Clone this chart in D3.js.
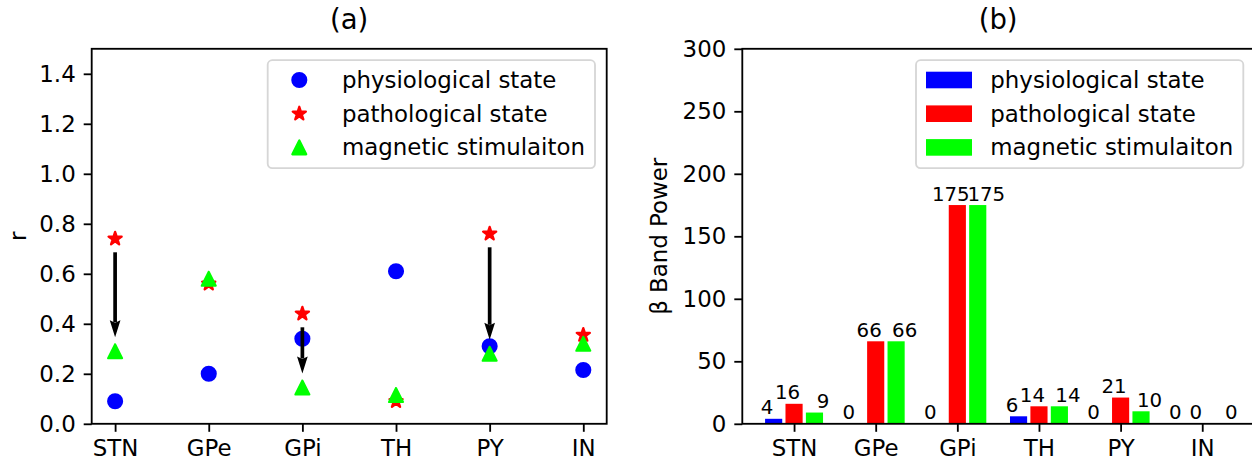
<!DOCTYPE html>
<html>
<head>
<meta charset="utf-8">
<script src="https://cdn.jsdelivr.net/npm/d3@7"></script>
<style>
  html, body { margin: 0; padding: 0; background: #fff; }
  svg { display: block; font-family: "DejaVu Sans", sans-serif; }
</style>
</head>
<body>
<svg id="fig" width="1252" height="461"></svg>
<script>
// ---- data ----
const categories = ["STN", "GPe", "GPi", "TH", "PY", "IN"];
const seriesNames = ["physiological state", "pathological state", "magnetic stimulaiton"];
const seriesColors = ["#0000ff", "#ff0000", "#00ff00"];

// (a) synchronization index r per nucleus
const physiologicalR = [0.09, 0.20, 0.34, 0.61, 0.31, 0.215];
const pathologicalR  = [0.74, 0.56, 0.44, 0.09, 0.76, 0.355];
const magneticR      = [0.29, 0.58, 0.145, 0.115, 0.28, 0.32];
// arrows from pathological to stimulated state
const arrowCategories = ["STN", "GPi", "PY"];
const rTicks = [0.0, 0.2, 0.4, 0.6, 0.8, 1.0, 1.2, 1.4];

// (b) beta band power per nucleus
const physiologicalPower = [4, 0, 0, 6, 0, 0];
const pathologicalPower  = [16, 66, 175, 14, 21, 0];
const magneticPower      = [9, 66, 175, 14, 10, 0];
const powerTicks = [0, 50, 100, 150, 200, 250, 300];

// ---- layout ----
const FS = 22.9;          // base font size
const SPINE = 1.83;
const TICK = 8;
const plotTop = 48.8, plotBottom = 423.8;
const A = { x0: 91.7, x1: 606.7 };
const B = { x0: 742.3, x1: 1254 };

const svg = d3.select("#fig");

function spines(g, x0, x1) {
  g.append("rect")
    .attr("x", x0).attr("y", plotTop)
    .attr("width", x1 - x0).attr("height", plotBottom - plotTop)
    .attr("fill", "none").attr("stroke", "#000").attr("stroke-width", SPINE);
}

function styleAxis(sel) {
  sel.select(".domain").remove();
  sel.selectAll(".tick line").attr("stroke", "#000").attr("stroke-width", SPINE);
  sel.selectAll(".tick text")
    .attr("fill", "#000")
    .attr("font-size", FS)
    .attr("font-family", "DejaVu Sans");
}

function title(text, x0, x1) {
  svg.append("text")
    .attr("x", (x0 + x1) / 2).attr("y", 29)
    .attr("text-anchor", "middle")
    .attr("font-size", 27.5)
    .text(text);
}

function yLabel(text, x) {
  svg.append("text")
    .attr("transform", `translate(${x},${(plotTop + plotBottom) / 2}) rotate(-90)`)
    .attr("text-anchor", "middle")
    .attr("font-size", FS)
    .text(text);
}

function legendFrame(x0) {
  const g = svg.append("g");
  g.append("rect")
    .attr("x", x0).attr("y", 60.2)
    .attr("width", 327.3).attr("height", 108)
    .attr("rx", 4.6).attr("ry", 4.6)
    .attr("fill", "#fff").attr("fill-opacity", 0.8)
    .attr("stroke", "#cccccc").attr("stroke-opacity", 0.8)
    .attr("stroke-width", SPINE);
  return g;
}
const legendRows = [80, 113.7, 147.4];

// ---- marker shapes ----
const MR = 6.9;     // marker half size
const MEW = 2.3;    // marker edge width
function starPath(r) {
  const pts = [];
  const inner = r * 0.381966;
  for (let k = 0; k < 10; k++) {
    const rad = k % 2 === 0 ? r : inner;
    const ang = -Math.PI / 2 + k * Math.PI / 5;
    pts.push([rad * Math.cos(ang), rad * Math.sin(ang)]);
  }
  return d3.line()(pts) + "Z";
}
function trianglePath(r) {
  return d3.line()([[0, -r], [-r, r], [r, r]]) + "Z";
}
function drawMarker(g, kind, cx, cy, color) {
  if (kind === 0) {
    g.append("circle").attr("cx", cx).attr("cy", cy).attr("r", MR)
      .attr("fill", color).attr("stroke", color).attr("stroke-width", MEW);
  } else {
    g.append("path")
      .attr("d", kind === 1 ? starPath(MR) : trianglePath(MR))
      .attr("transform", `translate(${cx},${cy})`)
      .attr("fill", color).attr("stroke", color)
      .attr("stroke-width", MEW).attr("stroke-linejoin", "round");
  }
}

// ================= panel (a) =================
const xA = d3.scaleLinear().domain([-0.25, 5.25]).range([A.x0, A.x1]);
const yA = d3.scaleLinear().domain([0, 1.5]).range([plotBottom, plotTop]);

const gA = svg.append("g");
const gAy = gA.append("g").attr("transform", `translate(${A.x0},0)`)
  .call(d3.axisLeft(yA).tickValues(rTicks).tickFormat(d3.format(".1f"))
    .tickSize(TICK).tickPadding(8));
styleAxis(gAy);
const gAx = gA.append("g").attr("transform", `translate(0,${plotBottom})`)
  .call(d3.axisBottom(xA).tickValues(d3.range(categories.length))
    .tickFormat(i => categories[i]).tickSize(TICK).tickPadding(8));
styleAxis(gAx);

const rSeries = [physiologicalR, pathologicalR, magneticR];
const gMarks = gA.append("g");
rSeries.forEach((vals, s) => {
  vals.forEach((v, i) => drawMarker(gMarks, s, xA(i), yA(v), seriesColors[s]));
});

// arrows: pathological -> magnetic stimulation
const gArrows = gA.append("g");
const shrinkStart = 13.5, shrinkEnd = 14, headLen = 17, headW = 10.7, shaftW = 3.7;
arrowCategories.forEach(c => {
  const i = categories.indexOf(c);
  const x = xA(i);
  const yStart = yA(pathologicalR[i]) + shrinkStart;
  const yTip = yA(magneticR[i]) - shrinkEnd;
  gArrows.append("line")
    .attr("x1", x).attr("x2", x)
    .attr("y1", yStart).attr("y2", yTip - headLen + 2)
    .attr("stroke", "#000").attr("stroke-width", shaftW);
  gArrows.append("path")
    .attr("d", d3.line()([[x, yTip], [x - headW / 2, yTip - headLen], [x, yTip - headLen + 2.5], [x + headW / 2, yTip - headLen]]) + "Z")
    .attr("fill", "#000");
});

spines(gA, A.x0, A.x1);
title("(a)", A.x0, A.x1);
yLabel("r", 25.5);

// legend (a)
const legA = legendFrame(267.7);
seriesNames.forEach((name, s) => {
  drawMarker(legA, s, 267.7 + 31.6, legendRows[s], seriesColors[s]);
  legA.append("text")
    .attr("x", 267.7 + 74.3).attr("y", legendRows[s] + 8)
    .attr("font-size", FS).text(name);
});

// ================= panel (b) =================
const xB = d3.scaleLinear().domain([-0.634, 5.634]).range([B.x0, B.x1]);
const yB = d3.scaleLinear().domain([0, 300]).range([plotBottom, plotTop]);
const barW = 0.21;
const barOffsets = [-0.25, 0, 0.25];
const labelShift = [-0.08, -0.08, 0.105];

const gB = svg.append("g");
const gBy = gB.append("g").attr("transform", `translate(${B.x0},0)`)
  .call(d3.axisLeft(yB).tickValues(powerTicks).tickSize(TICK).tickPadding(8));
styleAxis(gBy);
const gBx = gB.append("g").attr("transform", `translate(0,${plotBottom})`)
  .call(d3.axisBottom(xB).tickValues(d3.range(categories.length))
    .tickFormat(i => categories[i]).tickSize(TICK).tickPadding(8));
styleAxis(gBx);

const powerSeries = [physiologicalPower, pathologicalPower, magneticPower];
const gBars = gB.append("g");
powerSeries.forEach((vals, s) => {
  gBars.selectAll(null).data(vals).enter().append("rect")
    .attr("x", (d, i) => xB(i + barOffsets[s] - barW / 2))
    .attr("width", xB(barW) - xB(0))
    .attr("y", d => yB(d))
    .attr("height", d => yB(0) - yB(d))
    .attr("fill", seriesColors[s]);
  gBars.selectAll(null).data(vals).enter().append("text")
    .attr("x", (d, i) => xB(i + barOffsets[s] + labelShift[s]))
    .attr("y", d => yB(d) - 4.5)
    .attr("text-anchor", "middle")
    .attr("font-size", 19.8)
    .text(d => d);
});

spines(gB, B.x0, B.x1);
title("(b)", B.x0, B.x1);
yLabel("β Band Power", 667);

// legend (b)
const legB = legendFrame(916);
seriesNames.forEach((name, s) => {
  legB.append("rect")
    .attr("x", 916 + 10).attr("y", legendRows[s] - 8.3)
    .attr("width", 46).attr("height", 16.6)
    .attr("fill", seriesColors[s]);
  legB.append("text")
    .attr("x", 916 + 74.3).attr("y", legendRows[s] + 8)
    .attr("font-size", FS).text(name);
});
</script>
</body>
</html>
